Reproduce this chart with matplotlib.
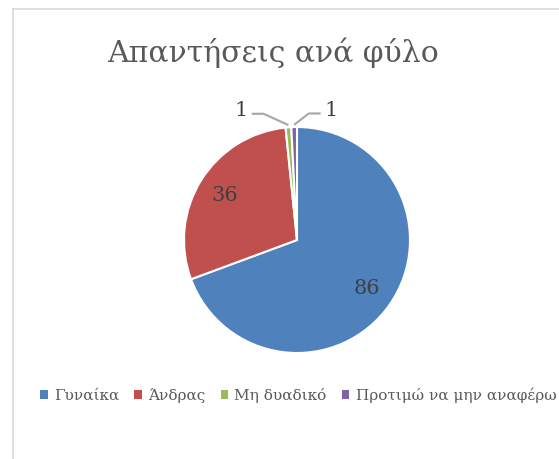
import numpy as np
import matplotlib
matplotlib.use("Agg")
import matplotlib.pyplot as plt
from matplotlib.patches import Rectangle
from matplotlib.lines import Line2D

categories = ["Γυναίκα", "Άνδρας", "Μη δυαδικό", "Προτιμώ να μην αναφέρω"]
values = [86, 36, 1, 1]
colors = ["#4F81BD", "#C0504D", "#9BBB59", "#8064A2"]
title = "Απαντήσεις ανά φύλο"

plt.rcParams['font.family'] = ['DejaVu Serif']
text_color = "#595959"
label_color = "#404040"

W, H = 559, 459
fig = plt.figure(figsize=(W / 100, H / 100), dpi=100)

# chart area border (left and top edges visible)
fig.add_artist(Line2D([12.5 / W, 12.5 / W], [0, 1 - 8.5 / H], color="#D9D9D9", lw=1.2))
fig.add_artist(Line2D([12.5 / W, 1], [1 - 8.5 / H, 1 - 8.5 / H], color="#D9D9D9", lw=1.2))

# pie axes: center (297, 240) px, radius 113 px
cx, cy, r_px, half = 297, 240, 113, 150
ax = fig.add_axes([(cx - half) / W, (H - cy - half) / H, 2 * half / W, 2 * half / H])
wedges, _ = ax.pie(values, colors=colors, startangle=90, counterclock=False,
                   radius=1.0, wedgeprops=dict(edgecolor="white", linewidth=1.5))
L = half / r_px
ax.set_xlim(-L, L)
ax.set_ylim(-L, L)
ax.set_aspect("equal")
ax.axis("off")

# leader line offsets for the small slices (elbow dx)
leader_dx = {2: -0.22, 3: 0.13}
for i, (w, v) in enumerate(zip(wedges, values)):
    mid = np.deg2rad((w.theta1 + w.theta2) / 2)
    if i not in leader_dx:
        ax.text(0.75 * np.cos(mid), 0.75 * np.sin(mid), str(v), ha="center", va="center",
                fontsize=15, color=label_color)
    else:
        ex, ey = np.cos(mid), np.sin(mid) + 0.02
        dx = leader_dx[i]
        side = 1 if dx > 0 else -1
        elbow = (ex + dx, ey + 0.1)
        end = (elbow[0] + side * 0.105, elbow[1])
        ax.plot([ex, elbow[0], end[0]], [ey, elbow[1], end[1]], color="#A6A6A6", lw=1.5,
                solid_capstyle="butt")
        ax.text(end[0] + side * 0.03, end[1] + 0.03, str(v), ha="left" if side > 0 else "right",
                va="center", fontsize=15, color=label_color)

fig.text(273 / W, 1 - 62 / H, title, ha="center", va="baseline", fontsize=21.5, color=text_color)

handles = [Rectangle((0, 0), 1, 1, facecolor=c, edgecolor="none") for c in colors]
fig.legend(handles, categories, loc="center left", bbox_to_anchor=(40 / W, 1 - 395 / H),
           ncol=4, frameon=False, fontsize=11, labelcolor=text_color,
           handlelength=0.5, handleheight=0.5, handletextpad=0.4, columnspacing=1.0,
           borderaxespad=0, borderpad=0)

fig.savefig("out.png", dpi=100)
